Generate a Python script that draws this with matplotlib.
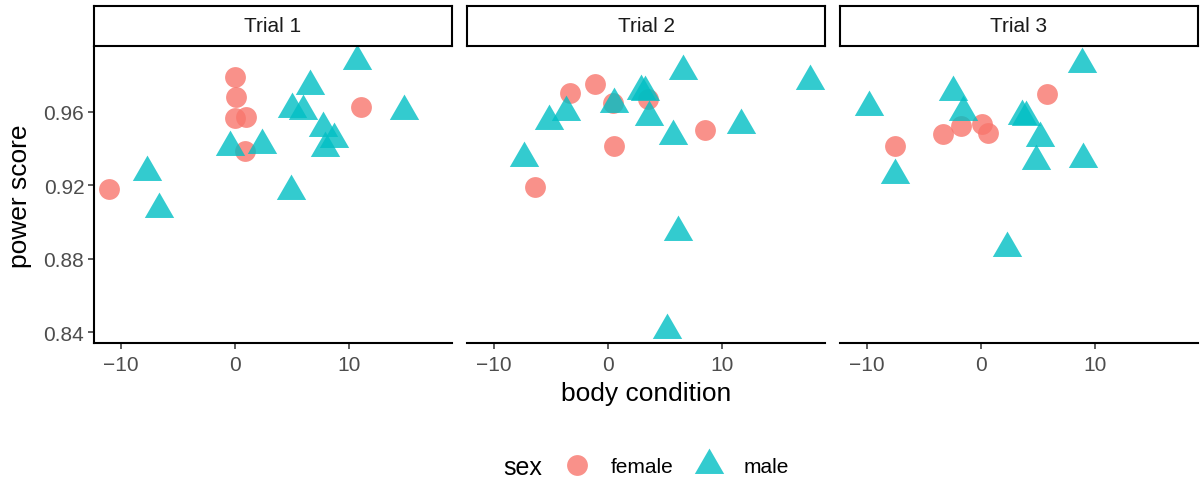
import matplotlib
matplotlib.use('Agg')
from matplotlib import pyplot as plt
from matplotlib.lines import Line2D

plt.rcParams['font.family'] = ['Liberation Sans', 'DejaVu Sans']

trials = ['Trial 1', 'Trial 2', 'Trial 3']

# body condition / power score
t1_female_x = [-11.0, 0.0, 0.06, 0.0, 0.93, 0.87, 11.06]
t1_female_y = [0.9180, 0.9787, 0.9678, 0.9566, 0.9573, 0.9384, 0.9624]
t1_male_x = [10.68, 6.55, 4.95, 5.97, 14.76, 7.71, 8.67, 7.86, -0.44, 2.33, -7.71, -6.70, 4.86]
t1_male_y = [0.9876, 0.9738, 0.9615, 0.9605, 0.9605, 0.9511, 0.9451, 0.9402, 0.9410, 0.9419, 0.9270, 0.9070, 0.9170]

t2_female_x = [-3.36, -1.10, 0.41, 3.54, 8.52, 0.55, -6.41]
t2_female_y = [0.9702, 0.9751, 0.9646, 0.9669, 0.9500, 0.9415, 0.9192]
t2_male_x = [6.55, 17.65, 2.87, 3.22, 0.55, -3.65, -5.19, 3.59, 5.68, 11.65, -7.33, 6.11, 5.13]
t2_male_y = [0.9823, 0.9769, 0.9711, 0.9705, 0.9642, 0.9600, 0.9548, 0.9573, 0.9466, 0.9528, 0.9348, 0.8944, 0.8410]

t3_female_x = [5.77, -7.54, -3.36, -1.77, 0.06, 0.64]
t3_female_y = [0.9696, 0.9415, 0.9479, 0.9521, 0.9533, 0.9484]
t3_male_x = [8.81, -2.46, -9.77, -1.54, 3.62, 3.91, 5.13, 4.84, 8.90, -7.57, 2.29]
t3_male_y = [0.9858, 0.9705, 0.9624, 0.9597, 0.9578, 0.9573, 0.9455, 0.9333, 0.9343, 0.9256, 0.8857]

female_x = [t1_female_x, t2_female_x, t3_female_x]
female_y = [t1_female_y, t2_female_y, t3_female_y]
male_x = [t1_male_x, t2_male_x, t3_male_x]
male_y = [t1_male_y, t2_male_y, t3_male_y]

x_ticks = [-10, 0, 10]
x_tick_labels = ['\u221210', '0', '10']
y_ticks = [0.84, 0.88, 0.92, 0.96]
y_tick_labels = ['0.84', '0.88', '0.92', '0.96']

red = '#F8766D'
teal = '#00BFC4'
tri = [(0, 1), (-0.866, -0.5), (0.866, -0.5)]

W, H = 1201, 485
fig = plt.figure(figsize=(W / 100, H / 100), dpi=100)

lefts = [94, 467, 840]
pw = 358
top, bottom = 48, 344

for i, name in enumerate(trials):
    ax = fig.add_axes([lefts[i] / W, 1 - bottom / H, pw / W, (bottom - top) / H])
    ax.plot(female_x[i], female_y[i], ls='none', marker='o', ms=15, mew=0,
            color=red, alpha=0.8)
    ax.plot(male_x[i], male_y[i], ls='none', marker=tri, ms=24.4, mew=0,
            color=teal, alpha=0.8)
    ax.set_xlim(-12.35, 19.0)
    ax.set_ylim(0.8342, 0.9952)
    for s in ['top', 'right']:
        ax.spines[s].set_visible(False)
    ax.spines['bottom'].set_linewidth(1.5)
    ax.set_xticks(x_ticks)
    ax.set_xticklabels(x_tick_labels)
    ax.tick_params(axis='x', length=4, width=1.1, color='#333333', pad=4.5,
                   labelsize=15, labelcolor='#4D4D4D')
    if i == 0:
        ax.spines['left'].set_linewidth(1.5)
        ax.set_yticks(y_ticks)
        ax.set_yticklabels(y_tick_labels)
        ax.tick_params(axis='y', length=4, width=1.1, color='#333333', pad=3,
                       labelsize=15, labelcolor='#4D4D4D')
    else:
        ax.spines['left'].set_visible(False)
        ax.set_yticks([])

    # strip
    sa = fig.add_axes([lefts[i] / W, 1 - 47 / H, pw / W, 40 / H])
    sa.set_xticks([])
    sa.set_yticks([])
    for s in sa.spines.values():
        s.set_linewidth(1.5)
        s.set_color('black')
    sa.text(0.5, 0.5, name, ha='center', va='center', fontsize=15,
            color='#1A1A1A', transform=sa.transAxes)

fig.text(646 / W, 1 - 394 / H, 'body condition', ha='center', va='center', fontsize=19)
fig.text(20 / W, 1 - 196 / H, 'power score', ha='center', va='center',
         rotation=90, fontsize=19)

fig.text(542 / W, 1 - 468 / H, 'sex', ha='right', va='center', fontsize=18)
handles = [
    Line2D([], [], ls='none', marker='o', ms=15, mew=0, color=red, alpha=0.8),
    Line2D([], [], ls='none', marker=tri, ms=24.4, mew=0, color=teal, alpha=0.8),
]
fig.legend(handles, ['female', 'male'], ncol=2, loc='center left',
           bbox_to_anchor=(560 / W, 1 - 468 / H), frameon=False, fontsize=15,
           borderpad=0, borderaxespad=0, handlelength=1.6, handletextpad=0.85,
           columnspacing=0.91)

plt.savefig('out.png', dpi=100)
